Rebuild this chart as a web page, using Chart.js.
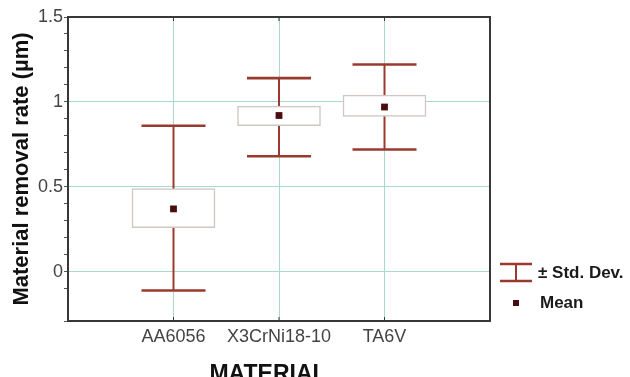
<!DOCTYPE html>
<html>
<head>
  <meta charset="UTF-8">
  <title>Material removal rate</title>
  <script src="https://cdn.jsdelivr.net/npm/chart.js"></script>
  <style>
    body {
      margin: 0;
      background: #fff;
      overflow: hidden;
    }
    #wrap {
      width: 630px;
      height: 377px;
    }
  </style>
</head>
<body>
  <div id="wrap">
    <canvas id="chart" width="630" height="377"></canvas>
  </div>

  <script>
    // values per material
    const materials = ["AA6056", "X3CrNi18-10", "TA6V"];
    const means = [0.37, 0.92, 0.97];
    const seLow = [0.26, 0.86, 0.915];
    const seHigh = [0.49, 0.975, 1.04];
    const sdLow = [-0.11, 0.68, 0.72];
    const sdHigh = [0.86, 1.14, 1.22];

    const yMin = -0.29;
    const yMax = 1.5;

    const FONT = "Arial, 'Liberation Sans', sans-serif";
    const WHISKER = "#9a3a2c";
    const MEAN = "#4a0c0c";
    const GRID = "#a9d9cd";

    function isMajor(v) {
      return Math.abs(v * 2 - Math.round(v * 2)) < 1e-6;
    }

    // whiskers, frame, x title and the legend
    const decorations = {
      id: "decorations",
      beforeDatasetsDraw(chart) {
        const ctx = chart.ctx;
        const xs = chart.scales.x;
        const ys = chart.scales.y;
        ctx.save();
        ctx.strokeStyle = WHISKER;
        materials.forEach((m, i) => {
          const x = xs.getPixelForValue(i + 1);
          const top = ys.getPixelForValue(sdHigh[i]);
          const bot = ys.getPixelForValue(sdLow[i]);
          ctx.lineWidth = 2;
          ctx.beginPath();
          ctx.moveTo(x, top);
          ctx.lineTo(x, bot);
          ctx.stroke();
          ctx.lineWidth = 2.6;
          ctx.beginPath();
          ctx.moveTo(x - 32, top);
          ctx.lineTo(x + 32, top);
          ctx.moveTo(x - 32, bot);
          ctx.lineTo(x + 32, bot);
          ctx.stroke();
        });
        ctx.restore();
      },
      afterDraw(chart) {
        const ctx = chart.ctx;
        const a = chart.chartArea;
        const xs = chart.scales.x;
        ctx.save();

        // frame
        ctx.strokeStyle = "#383838";
        ctx.lineWidth = 2;
        ctx.strokeRect(a.left, a.top, a.right - a.left, a.bottom - a.top);

        // small inward ticks at each material
        ctx.lineWidth = 1;
        materials.forEach((m, i) => {
          const x = xs.getPixelForValue(i + 1);
          ctx.beginPath();
          ctx.moveTo(x, a.top);
          ctx.lineTo(x, a.top + 4);
          ctx.moveTo(x, a.bottom);
          ctx.lineTo(x, a.bottom - 4);
          ctx.stroke();
        });

        // x axis title
        ctx.fillStyle = "#111";
        ctx.font = "bold 23px " + FONT;
        ctx.textAlign = "center";
        ctx.textBaseline = "alphabetic";
        ctx.fillText("MATERIAL", 268, 381);

        // legend
        const lx = 516;
        ctx.strokeStyle = WHISKER;
        ctx.lineWidth = 2.6;
        ctx.beginPath();
        ctx.moveTo(lx - 16, 264);
        ctx.lineTo(lx + 16, 264);
        ctx.moveTo(lx - 16, 281);
        ctx.lineTo(lx + 16, 281);
        ctx.stroke();
        ctx.lineWidth = 2;
        ctx.beginPath();
        ctx.moveTo(lx, 264);
        ctx.lineTo(lx, 281);
        ctx.stroke();

        ctx.fillStyle = MEAN;
        ctx.fillRect(lx - 3, 300, 6, 6);

        ctx.fillStyle = "#1a1a1a";
        ctx.font = "bold 17px " + FONT;
        ctx.textAlign = "left";
        ctx.textBaseline = "middle";
        ctx.fillText("\u00b1 Std. Dev.", 538, 273);
        ctx.fillText("Mean", 540, 303);

        ctx.restore();
      }
    };

    new Chart(document.getElementById("chart"), {
      type: "bar",
      data: {
        datasets: [
          {
            type: "scatter",
            label: "Mean",
            data: materials.map((m, i) => ({ x: i + 1, y: means[i] })),
            pointStyle: "rect",
            pointRadius: 4.8,
            borderWidth: 0,
            backgroundColor: MEAN,
            order: 0
          },
          {
            type: "bar",
            label: "± Std. Err.",
            data: materials.map((m, i) => ({ x: i + 1, y: [seLow[i], seHigh[i]] })),
            backgroundColor: "#ffffff",
            borderColor: "#cfc7c3",
            borderWidth: 1.5,
            borderSkipped: false,
            barThickness: 83,
            order: 1
          }
        ]
      },
      options: {
        responsive: false,
        animation: false,
        layout: {
          padding: { left: 0, top: 17, right: 140, bottom: 0 }
        },
        plugins: {
          legend: { display: false },
          tooltip: { enabled: false }
        },
        scales: {
          x: {
            type: "linear",
            min: 0,
            max: 4,
            offset: false,
            afterFit: (scale) => { scale.height = 56; },
            border: { display: false },
            grid: {
              offset: false,
              drawTicks: false,
              color: (c) => (c.tick && c.tick.value >= 1 && c.tick.value <= 3) ? GRID : "rgba(0,0,0,0)"
            },
            ticks: {
              stepSize: 1,
              padding: 5,
              autoSkip: false,
              maxRotation: 0,
              minRotation: 0,
              color: "#444",
              font: { family: FONT, size: 18 },
              callback: (v) => materials[v - 1] || ""
            }
          },
          y: {
            min: yMin,
            max: yMax,
            afterFit: (scale) => { scale.width = 68; },
            border: { display: false },
            grid: {
              tickLength: 4,
              tickColor: "#555",
              color: (c) => (c.tick && isMajor(c.tick.value)) ? GRID : "rgba(0,0,0,0)"
            },
            ticks: {
              stepSize: 0.1,
              autoSkip: false,
              padding: 1,
              color: "#444",
              font: { family: FONT, size: 18 },
              callback: (v) => isMajor(v) ? String(Math.round(v * 2) / 2) : ""
            },
            title: {
              display: true,
              text: "Material removal rate (\u00b5m)",
              color: "#111",
              font: { family: FONT, size: 22, weight: "bold" },
              padding: { top: 9, bottom: 0 }
            }
          }
        }
      },
      plugins: [decorations]
    });
  </script>
</body>
</html>
